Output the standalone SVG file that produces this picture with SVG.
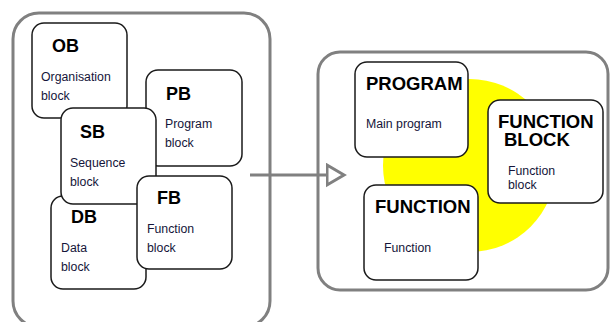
<svg xmlns="http://www.w3.org/2000/svg" width="611" height="322" viewBox="0 0 611 322">
  <style>
    .frame { fill: #ffffff; stroke: #808080; stroke-width: 3; }
    .box { fill: #ffffff; stroke: #1a1a1a; stroke-width: 1.5; }
    .title { font-family: "Liberation Sans", Arial, sans-serif; font-weight: bold; font-size: 18px; fill: #000000; }
    .big { font-family: "Liberation Sans", Arial, sans-serif; font-weight: bold; font-size: 18.5px; fill: #000000; }
    .small { font-family: "Liberation Sans", Arial, sans-serif; font-size: 12.3px; fill: #15153a; }
    .conn { fill: none; stroke: #808080; stroke-width: 3; }
  </style>
  <defs>
    <marker id="openArrow" markerUnits="userSpaceOnUse" markerWidth="24" markerHeight="26" refX="1" refY="12" orient="auto">
      <path d="M1,2 L18,12 L1,22 Z" fill="#ffffff" stroke="#808080" stroke-width="3" stroke-linejoin="miter"/>
    </marker>
  </defs>

  <rect width="611" height="322" fill="#ffffff"/>

  <!-- Left container: block types -->
  <g id="blocks-frame">
    <rect class="frame" x="13" y="13" width="257" height="314" rx="26" ry="26"/>
  </g>

  <g id="ob">
    <rect class="box" x="32" y="23" width="95" height="95" rx="12" ry="12"/>
    <text class="title" x="52" y="52">OB</text>
    <text class="small" x="41" y="81">Organisation</text>
    <text class="small" x="41" y="100">block</text>
  </g>

  <g id="pb">
    <rect class="box" x="146" y="70" width="96" height="96" rx="12" ry="12"/>
    <text class="title" x="166" y="100">PB</text>
    <text class="small" x="165" y="128">Program</text>
    <text class="small" x="165" y="147">block</text>
  </g>

  <g id="db">
    <rect class="box" x="51" y="196" width="95" height="93" rx="12" ry="12"/>
    <text class="title" x="71" y="223">DB</text>
    <text class="small" x="61" y="252">Data</text>
    <text class="small" x="61" y="271">block</text>
  </g>

  <g id="sb">
    <rect class="box" x="61" y="108" width="95" height="96" rx="12" ry="12"/>
    <text class="title" x="80" y="138">SB</text>
    <text class="small" x="70" y="167">Sequence</text>
    <text class="small" x="70" y="186">block</text>
  </g>

  <g id="fb">
    <rect class="box" x="137" y="176" width="95" height="93" rx="12" ry="12"/>
    <text class="title" x="157" y="204">FB</text>
    <text class="small" x="147" y="233">Function</text>
    <text class="small" x="147" y="252">block</text>
  </g>

  <!-- Right container: program organisation units -->
  <g id="pou-frame">
    <rect class="frame" x="318" y="52" width="290" height="238" rx="22" ry="22"/>
    <circle cx="469.5" cy="165.5" r="86.5" fill="#ffff00"/>
  </g>

  <!-- Connector between the two frames, drawn above both frames -->
  <g id="connectors">
    <line class="conn" x1="250" y1="175" x2="327" y2="175" marker-end="url(#openArrow)"/>
  </g>

  <g id="program">
    <rect class="box" x="355" y="62" width="113" height="95" rx="12" ry="12"/>
    <text class="big" x="366" y="90">PROGRAM</text>
    <text class="small" x="366" y="128">Main program</text>
  </g>

  <g id="function-block">
    <rect class="box" x="488" y="100" width="115" height="103" rx="12" ry="12"/>
    <text class="big"><tspan x="498" y="128">FUNCTION</tspan><tspan x="504" y="146">BLOCK</tspan></text>
    <text class="small"><tspan x="508" y="175">Function</tspan><tspan x="508" y="189">block</tspan></text>
  </g>

  <g id="function">
    <rect class="box" x="364" y="185" width="114" height="95" rx="12" ry="12"/>
    <text class="big" x="375" y="213">FUNCTION</text>
    <text class="small" x="384" y="252">Function</text>
  </g>
</svg>
